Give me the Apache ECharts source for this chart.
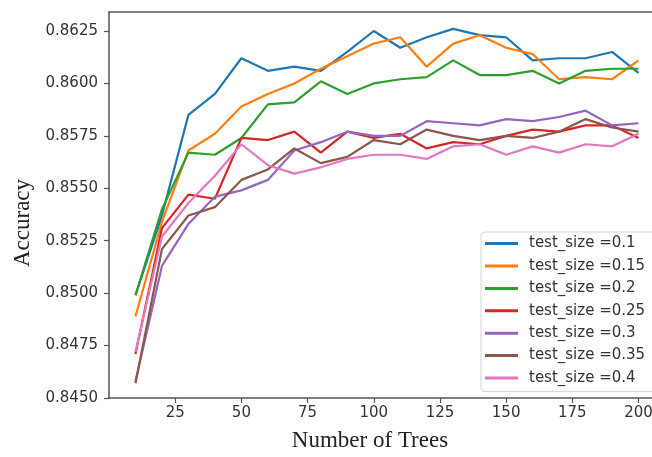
<!DOCTYPE html>
<html>
<head>
<meta charset="utf-8">
<script src="https://cdn.jsdelivr.net/npm/echarts@6/dist/echarts.min.js"></script>
<style>
html,body{margin:0;padding:0;background:#fff;overflow:hidden;}
#chart{width:652px;height:457px;}
</style>
</head>
<body>
<div id="chart"></div>
<script>
const trees = [10, 20, 30, 40, 50, 60, 70, 80, 90, 100, 110, 120, 130, 140, 150, 160, 170, 180, 190, 200];
const seriesNames = ['test_size =0.1', 'test_size =0.15', 'test_size =0.2', 'test_size =0.25', 'test_size =0.3', 'test_size =0.35', 'test_size =0.4'];
const acc01  = [0.8499, 0.8537, 0.8585, 0.8595, 0.8612, 0.8606, 0.8608, 0.8606, 0.8615, 0.8625, 0.8617, 0.8622, 0.8626, 0.8623, 0.8622, 0.8611, 0.8612, 0.8612, 0.8615, 0.8605];
const acc015 = [0.8489, 0.8534, 0.8568, 0.8576, 0.8589, 0.8595, 0.8600, 0.8607, 0.8613, 0.8619, 0.8622, 0.8608, 0.8619, 0.8623, 0.8617, 0.8614, 0.8602, 0.8603, 0.8602, 0.8611];
const acc02  = [0.8499, 0.8540, 0.8567, 0.8566, 0.8574, 0.8590, 0.8591, 0.8601, 0.8595, 0.8600, 0.8602, 0.8603, 0.8611, 0.8604, 0.8604, 0.8606, 0.8600, 0.8606, 0.8607, 0.8607];
const acc025 = [0.8471, 0.8531, 0.8547, 0.8545, 0.8574, 0.8573, 0.8577, 0.8567, 0.8577, 0.8574, 0.8576, 0.8569, 0.8572, 0.8571, 0.8575, 0.8578, 0.8577, 0.8580, 0.8580, 0.8574];
const acc03  = [0.8458, 0.8513, 0.8533, 0.8546, 0.8549, 0.8554, 0.8568, 0.8572, 0.8577, 0.8575, 0.8575, 0.8582, 0.8581, 0.8580, 0.8583, 0.8582, 0.8584, 0.8587, 0.8580, 0.8581];
const acc035 = [0.8457, 0.8521, 0.8537, 0.8541, 0.8554, 0.8559, 0.8569, 0.8562, 0.8565, 0.8573, 0.8571, 0.8578, 0.8575, 0.8573, 0.8575, 0.8574, 0.8577, 0.8583, 0.8579, 0.8577];
const acc04  = [0.8472, 0.8527, 0.8543, 0.8556, 0.8571, 0.8561, 0.8557, 0.8560, 0.8564, 0.8566, 0.8566, 0.8564, 0.8570, 0.8571, 0.8566, 0.8570, 0.8567, 0.8571, 0.8570, 0.8576];
const allValues = [acc01, acc015, acc02, acc025, acc03, acc035, acc04];
const colors = ['#1f77b4', '#ff7f0e', '#2ca02c', '#d62728', '#9467bd', '#8c564b', '#e377c2'];

const chart = echarts.init(document.getElementById('chart'), null, {renderer: 'canvas', width: 652, height: 457});
const axisColor = '#555';
const labelColor = '#333';
const tickFont = 'DejaVu Sans';

const series = seriesNames.map((name, i) => ({
  name: name,
  type: 'line',
  xAxisIndex: 0,
  data: trees.map((t, j) => [t, allValues[i][j]]),
  symbol: 'none',
  lineStyle: {width: 2.2, color: colors[i]},
  itemStyle: {color: colors[i]},
  z: 2 + i,
  animation: false
}));

chart.setOption({
  animation: false,
  backgroundColor: '#fff',
  grid: {left: 109, width: 556, top: 12, bottom: 59, show: false, containLabel: false, outerBoundsMode: 'none'},
  xAxis: [{
    type: 'value',
    min: 0, max: 210, interval: 25,
    name: 'Number of Trees',
    nameLocation: 'middle',
    nameGap: 31,
    nameTextStyle: {fontFamily: 'Liberation Serif', fontSize: 23, color: '#222', padding: [0, 34, 0, 0]},
    axisLine: {show: true, onZero: false, lineStyle: {color: axisColor, width: 1.5}},
    axisTick: {show: true, length: 5, lineStyle: {color: axisColor, width: 1.2}},
    axisLabel: {showMinLabel: false, showMaxLabel: false, margin: 8, fontFamily: tickFont, fontSize: 15, color: labelColor},
    splitLine: {show: false}
  }, {
    type: 'value',
    position: 'top',
    min: 0, max: 210, interval: 25,
    axisLine: {show: true, onZero: false, lineStyle: {color: axisColor, width: 1.5}},
    axisTick: {show: false},
    axisLabel: {show: false},
    splitLine: {show: false}
  }],
  yAxis: {
    type: 'value',
    min: 0.845, max: 0.863406, interval: 0.0025,
    name: 'Accuracy',
    nameLocation: 'middle',
    nameRotate: 90,
    nameGap: 73,
    nameTextStyle: {fontFamily: 'Liberation Serif', fontSize: 23, color: '#222', padding: [0, 36, 0, 0]},
    axisLine: {show: true, lineStyle: {color: axisColor, width: 1.5}},
    axisTick: {show: true, length: 5, lineStyle: {color: axisColor, width: 1.2}},
    axisLabel: {showMaxLabel: false, margin: 11, fontFamily: tickFont, fontSize: 15, color: labelColor,
      formatter: v => v.toFixed(4)},
    splitLine: {show: false}
  },
  legend: {
    orient: 'vertical',
    left: 481, top: 232,
    data: seriesNames,
    icon: 'rect',
    itemWidth: 33, itemHeight: 3,
    itemGap: 7.2,
    padding: [4, 30, 6, 4],
    backgroundColor: '#fff',
    borderColor: '#d5d5d5', borderWidth: 1, borderRadius: 4,
    textStyle: {fontFamily: tickFont, fontSize: 15, color: labelColor, lineHeight: 15.2, padding: [0, 0, 0, 6]}
  },
  series: series
});
</script>
</body>
</html>
